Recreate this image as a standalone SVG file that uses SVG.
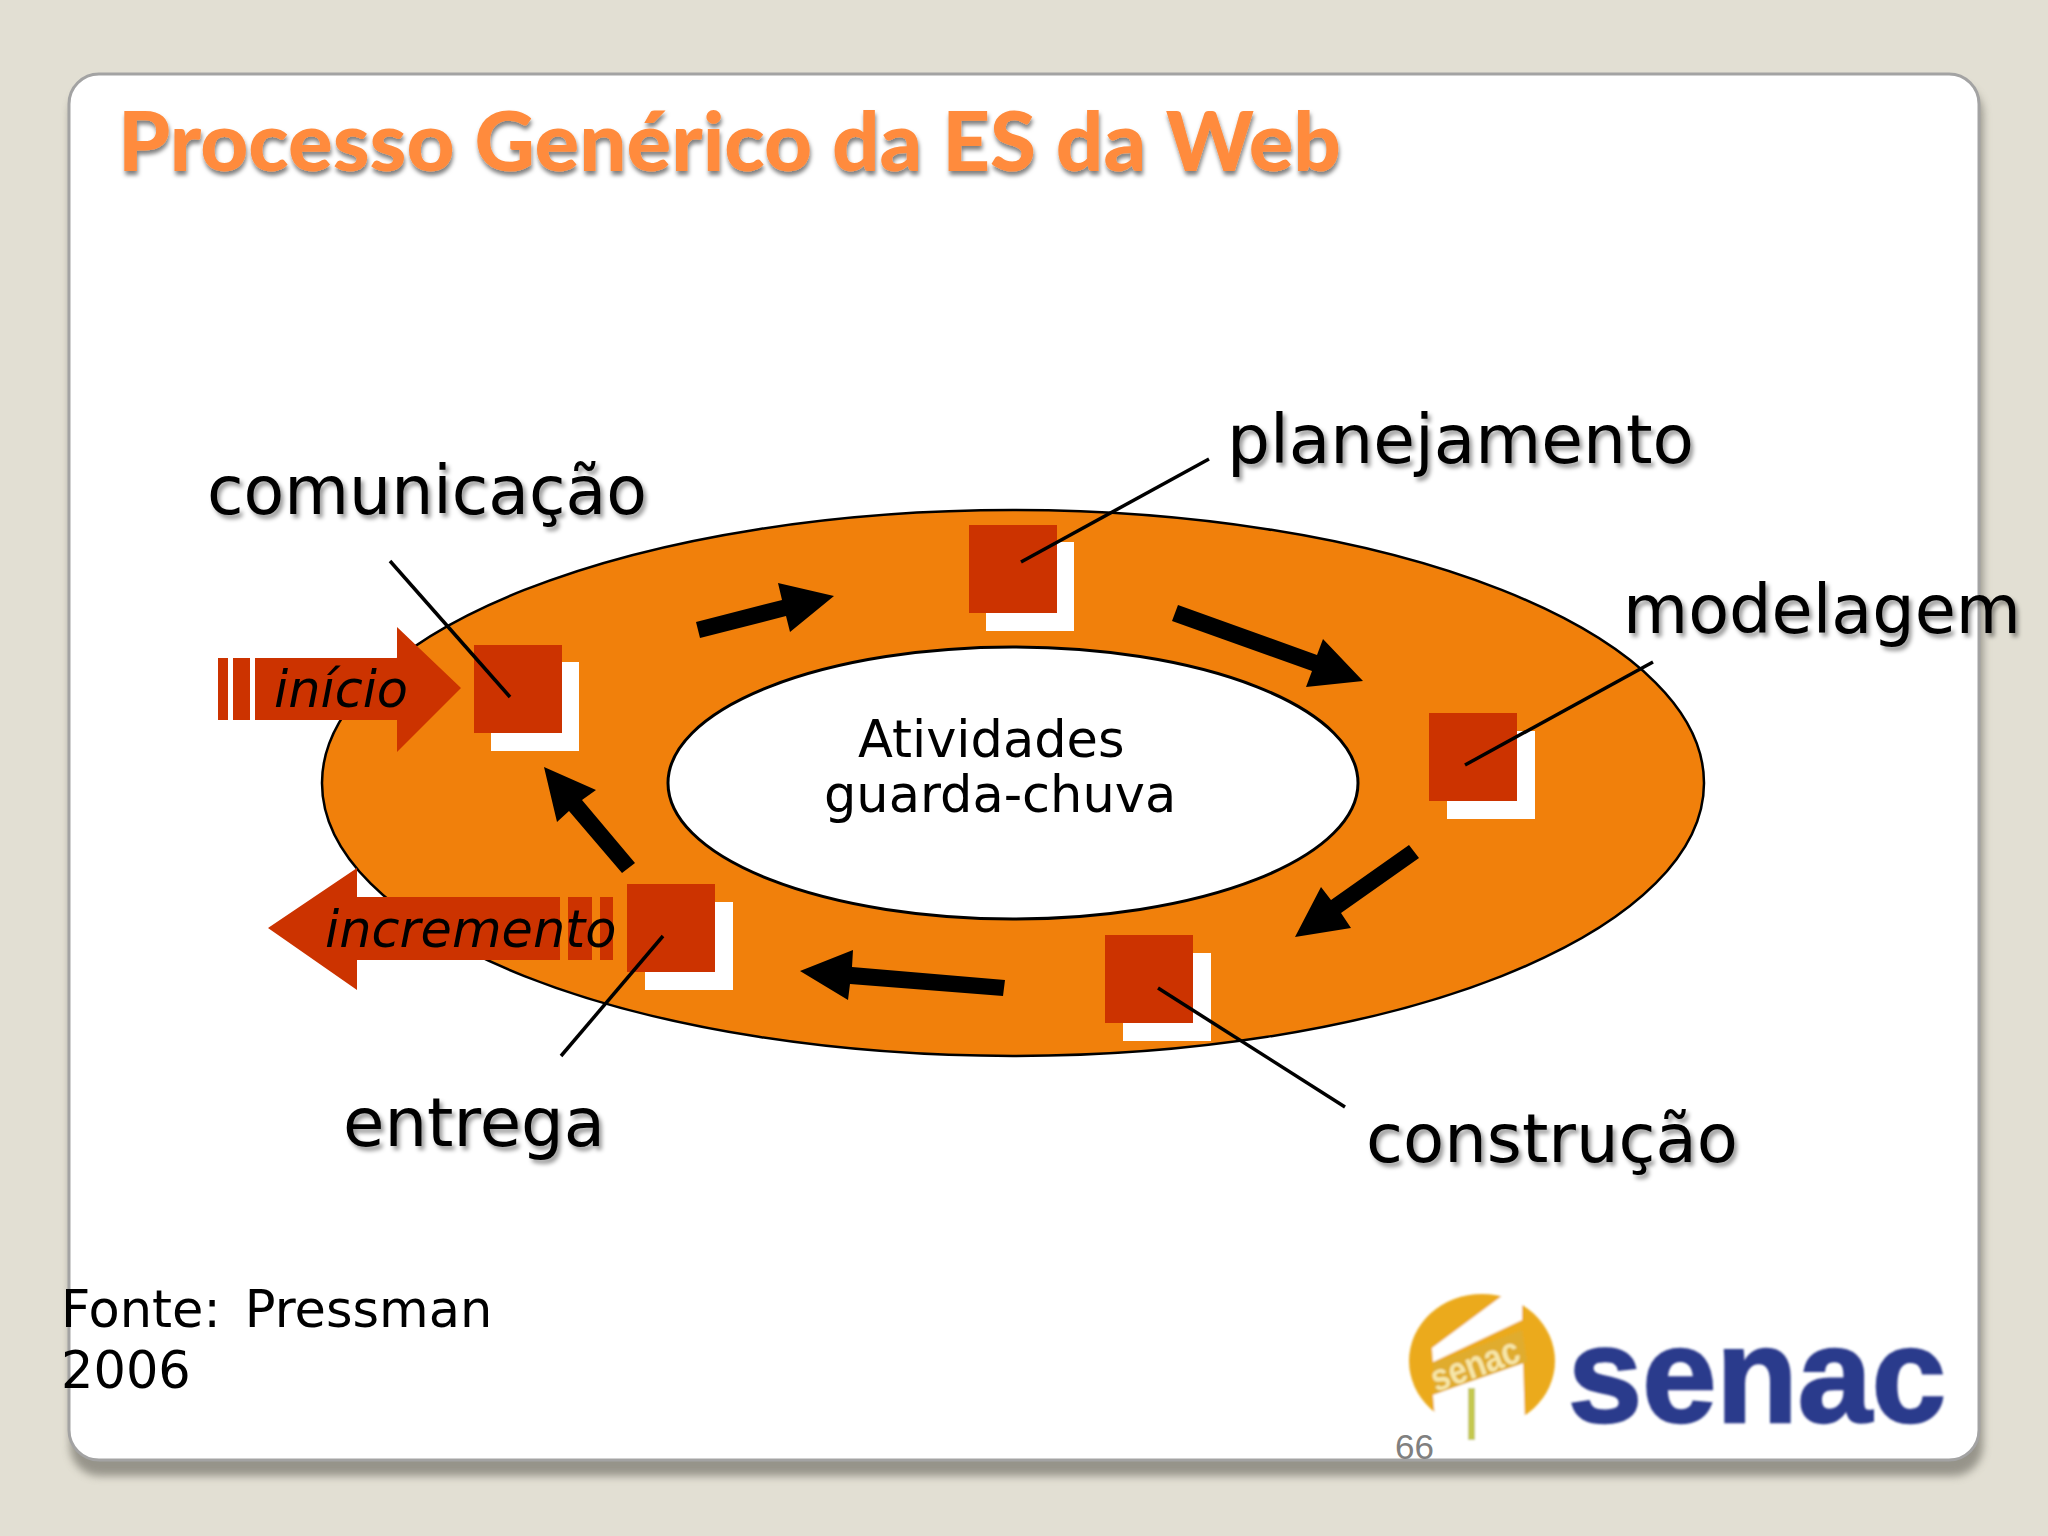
<svg xmlns="http://www.w3.org/2000/svg" width="2048" height="1536" viewBox="0 0 2048 1536">
<defs>
<filter id="soft" x="-10%" y="-10%" width="120%" height="120%"><feGaussianBlur stdDeviation="4"/></filter>
<filter id="ts" x="-5%" y="-20%" width="110%" height="150%"><feDropShadow dx="3" dy="4" stdDeviation="2.2" flood-color="#000" flood-opacity="0.4"/></filter>
<filter id="tt" x="-5%" y="-20%" width="110%" height="150%"><feDropShadow dx="1" dy="4" stdDeviation="2" flood-color="#000" flood-opacity="0.5"/></filter>
<filter id="bl" x="-5%" y="-5%" width="110%" height="110%"><feGaussianBlur stdDeviation="1.2"/></filter>
</defs>
<style>
.lab{font-family:"DejaVu Sans",sans-serif;font-size:67px;fill:#000;filter:url(#ts)}
.cen{font-family:"DejaVu Sans",sans-serif;font-size:51px;fill:#000}
.it{font-family:"DejaVu Sans",sans-serif;font-size:51px;font-style:italic;fill:#000}
.fon{font-family:"DejaVu Sans",sans-serif;font-size:51px;fill:#000;word-spacing:8px}
.sq{fill:#CC3300}
.sh{fill:#fff}
.ln{stroke:#000;stroke-width:3.5;fill:none;stroke-linecap:butt}
.ar{fill:#000}
.red{fill:#CC3300}
</style>
<rect id="background" width="2048" height="1536" fill="#E2DFD3"/>
<g id="slide">
<rect x="70" y="84" width="1913" height="1392" rx="30" fill="#77756c" opacity="0.7" filter="url(#soft)"/>
<rect x="69" y="74" width="1910" height="1386" rx="30" fill="#fff" stroke="#A3A3A3" stroke-width="3"/>
</g>
<text id="title" x="118" y="171" font-family="Lato,sans-serif" font-weight="900" font-size="82" fill="#FF8B3D" filter="url(#tt)" textLength="1223" lengthAdjust="spacingAndGlyphs">Processo Genérico da ES da Web</text>
<g id="ring">
<ellipse cx="1013" cy="783" rx="691" ry="273" fill="#F1800B" stroke="#000" stroke-width="2.5"/>
<ellipse cx="1013" cy="783" rx="345" ry="136" fill="#fff" stroke="#000" stroke-width="3"/>
<text class="cen" x="858" y="757">Atividades</text>
<text class="cen" x="824" y="812">guarda-chuva</text>
</g>
<g id="inicio">
<rect class="red" x="218" y="658" width="10" height="62"/>
<rect class="red" x="233" y="658" width="17" height="62"/>
<polygon class="red" points="255,658 397,658 397,627 461,688 397,752 397,720 255,720"/>
<text class="it" x="274" y="707">início</text>
</g>
<g id="incremento">
<polygon class="red" points="560,897 357,897 357,868 268,928 357,990 357,960 560,960"/>
<rect class="red" x="568" y="897" width="24" height="63"/>
<rect class="red" x="600" y="897" width="13" height="63"/>
<text class="it" x="325" y="947">incremento</text>
</g>
<g id="connectors">
<polygon class="ar" points="696,622 782,600 778,583 834,596 790,632 786,616 700,638"/>
<polygon class="ar" points="1178,605 1317,655 1323,639 1363,681 1306,687 1312,671 1172,621"/>
<polygon class="ar" points="1409,845 1331,900 1321,887 1295,937 1351,928 1341,913 1419,858"/>
<polygon class="ar" points="1005,980 852,967 853,950 800,971 848,1000 850,984 1003,996"/>
<polygon class="ar" points="635,863 582,800 596,790 544,767 557,822 569,811 622,873"/>
</g>
<g id="comunicacao"><rect class="sh" x="491" y="662" width="88" height="89"/><rect class="sq" x="474" y="645" width="88" height="88"/></g>
<g id="planejamento"><rect class="sh" x="986" y="542" width="88" height="89"/><rect class="sq" x="969" y="525" width="88" height="88"/></g>
<g id="modelagem"><rect class="sh" x="1447" y="731" width="88" height="88"/><rect class="sq" x="1429" y="713" width="88" height="88"/></g>
<g id="construcao"><rect class="sh" x="1123" y="953" width="88" height="88"/><rect class="sq" x="1105" y="935" width="88" height="88"/></g>
<g id="entrega"><rect class="sh" x="645" y="902" width="88" height="88"/><rect class="sq" x="627" y="884" width="88" height="88"/></g>
<g id="leaders">
<line class="ln" x1="390" y1="561" x2="510" y2="697"/>
<line class="ln" x1="1021" y1="562" x2="1209" y2="459"/>
<line class="ln" x1="1465" y1="765" x2="1653" y2="662"/>
<line class="ln" x1="1158" y1="988" x2="1345" y2="1107"/>
<line class="ln" x1="663" y1="936" x2="561" y2="1056"/>
</g>
<g id="labels">
<text class="lab" x="207" y="514" textLength="440" lengthAdjust="spacingAndGlyphs">comunicação</text>
<text class="lab" x="1227" y="463" textLength="467" lengthAdjust="spacingAndGlyphs">planejamento</text>
<text class="lab" x="1623" y="633" textLength="398" lengthAdjust="spacingAndGlyphs">modelagem</text>
<text class="lab" x="1366" y="1162" textLength="372" lengthAdjust="spacingAndGlyphs">construção</text>
<text class="lab" x="343" y="1146" textLength="262" lengthAdjust="spacingAndGlyphs">entrega</text>
</g>
<g id="fonte">
<text class="fon" x="61" y="1327">Fonte: Pressman</text>
<text class="fon" x="61" y="1388">2006</text>
</g>
<g id="logo" filter="url(#bl)">
<ellipse cx="1482" cy="1361" rx="73" ry="67" fill="#EBAA1E"/>
<polygon points="1510,1290 1432,1348 1433,1362 1522,1320 1522,1290" fill="#fff"/>
<polygon points="1433,1395 1435,1418 1435,1445 1525,1445 1525,1425 1523,1362" fill="#fff"/>
<polygon points="1433,1363 1522,1330 1527,1362 1435,1394" fill="#E0AC2E"/>
<rect x="1468" y="1388" width="7" height="52" fill="#C4C850"/>
<text x="1436" y="1392" transform="rotate(-20 1436 1392)" font-family="Liberation Sans,sans-serif" font-weight="700" font-size="38" fill="#F6E6A8" textLength="92" lengthAdjust="spacingAndGlyphs">senac</text>
<text x="1568" y="1422" font-family="Liberation Sans,sans-serif" font-weight="700" font-size="136" fill="#2B3A8C" stroke="#2B3A8C" stroke-width="2.5" textLength="378" lengthAdjust="spacingAndGlyphs">senac</text>
</g>
<text id="page" x="1395" y="1459" font-family="Liberation Sans,sans-serif" font-size="35" fill="#808080">66</text>
</svg>
